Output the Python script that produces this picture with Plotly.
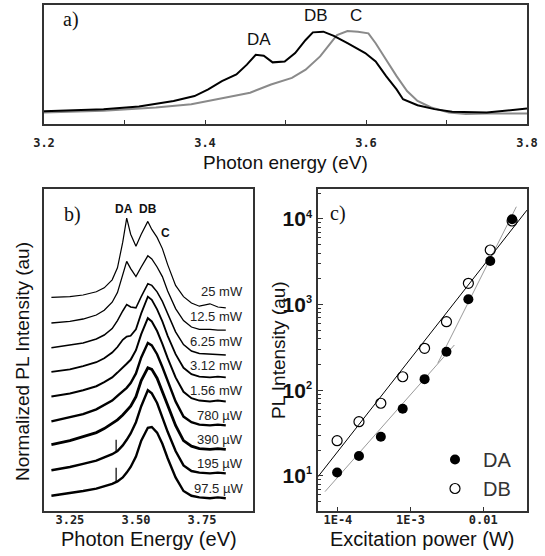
import plotly.graph_objects as go

W, H = 545, 556

# ---------------- Panel a data ----------------
a_black_E = [3.200, 3.274, 3.318, 3.361, 3.387, 3.404, 3.421, 3.439, 3.452, 3.463, 3.473, 3.484,
             3.499, 3.512, 3.525, 3.534, 3.547, 3.560, 3.577, 3.599, 3.612, 3.625, 3.638, 3.646,
             3.664, 3.685, 3.707, 3.750, 3.800]
a_black_I = [0.108, 0.125, 0.147, 0.194, 0.235, 0.291, 0.360, 0.416, 0.499, 0.582, 0.573, 0.518,
             0.526, 0.596, 0.706, 0.770, 0.776, 0.740, 0.679, 0.596, 0.526, 0.402, 0.291, 0.208,
             0.158, 0.125, 0.102, 0.097, 0.130]
a_grey_E = [3.200, 3.274, 3.339, 3.383, 3.426, 3.456, 3.482, 3.508, 3.525, 3.543, 3.556, 3.564,
            3.577, 3.590, 3.603, 3.612, 3.625, 3.638, 3.651, 3.664, 3.681, 3.703, 3.724, 3.750, 3.800]
a_grey_I = [0.097, 0.111, 0.139, 0.166, 0.222, 0.263, 0.332, 0.388, 0.457, 0.568, 0.679, 0.748,
            0.781, 0.776, 0.762, 0.679, 0.540, 0.402, 0.277, 0.194, 0.139, 0.097, 0.083, 0.089, 0.089]
a_ticks = [3.2, 3.4, 3.6, 3.8]
a_ticktext = ["3.2", "3.4", "3.6", "3.8"]

# ---------------- Panel b data ----------------
b_E = [3.18, 3.25, 3.30, 3.35, 3.38, 3.41, 3.43, 3.45, 3.465, 3.48, 3.50, 3.52, 3.545, 3.56,
       3.58, 3.60, 3.62, 3.65, 3.68, 3.71, 3.74, 3.78, 3.81, 3.84]
b_labels = ["25 mW", "12.5 mW", "6.25 mW", "3.12 mW", "1.56 mW", "780 µW", "390 µW", "195 µW", "97.5 µW"]
b_offsets = [2.64, 2.33, 2.02, 1.72, 1.41, 1.10, 0.79, 0.49, 0.18]
b_I = [
    [0.03, 0.04, 0.06, 0.10, 0.15, 0.25, 0.40, 0.72, 1.02, 0.82, 0.67, 0.82, 0.98, 0.88, 0.78, 0.64, 0.44, 0.18, 0.04, -0.04, -0.08, -0.05, -0.09, -0.10],
    [0.02, 0.04, 0.07, 0.12, 0.18, 0.28, 0.40, 0.62, 0.79, 0.70, 0.60, 0.72, 0.86, 0.82, 0.72, 0.60, 0.42, 0.20, 0.05, -0.03, -0.06, -0.06, -0.07, -0.07],
    [0.02, 0.05, 0.08, 0.13, 0.18, 0.26, 0.36, 0.48, 0.56, 0.53, 0.52, 0.66, 0.82, 0.80, 0.72, 0.60, 0.44, 0.22, 0.06, -0.02, -0.05, -0.06, -0.06, -0.07],
    [0.02, 0.05, 0.09, 0.14, 0.19, 0.26, 0.33, 0.42, 0.46, 0.47, 0.55, 0.75, 0.96, 0.92, 0.80, 0.65, 0.47, 0.24, 0.07, -0.01, -0.04, -0.05, -0.04, -0.05],
    [0.02, 0.06, 0.10, 0.15, 0.20, 0.26, 0.32, 0.39, 0.43, 0.48, 0.60, 0.80, 1.00, 0.96, 0.84, 0.68, 0.50, 0.26, 0.08, 0.00, -0.03, -0.04, -0.03, -0.04],
    [0.02, 0.07, 0.11, 0.17, 0.22, 0.28, 0.34, 0.40, 0.44, 0.50, 0.62, 0.82, 1.00, 0.97, 0.86, 0.70, 0.52, 0.27, 0.08, 0.01, -0.02, -0.03, -0.02, -0.03],
    [0.04, 0.09, 0.14, 0.19, 0.24, 0.30, 0.35, 0.41, 0.46, 0.52, 0.64, 0.84, 1.00, 0.98, 0.87, 0.70, 0.52, 0.28, 0.09, 0.02, -0.01, -0.02, -0.01, -0.02],
    [0.02, 0.06, 0.10, 0.14, 0.18, 0.22, 0.26, 0.33, 0.40, 0.48, 0.62, 0.82, 1.02, 0.98, 0.86, 0.68, 0.50, 0.26, 0.08, 0.01, -0.01, -0.02, -0.01, -0.02],
    [0.01, 0.04, 0.07, 0.10, 0.13, 0.16, 0.19, 0.24, 0.30, 0.37, 0.50, 0.70, 0.86, 0.87, 0.80, 0.66, 0.48, 0.24, 0.07, 0.01, -0.01, -0.02, -0.01, -0.02],
]
b_widths = [1.2, 1.3, 1.5, 1.8, 2.0, 2.4, 2.8, 2.4, 2.4]
# spikes: (curve index, energy, low, high)
b_spikes = [(7, 3.425, 0.24, 0.40), (8, 3.425, 0.18, 0.36)]
b_ticks = [3.25, 3.50, 3.75]
b_ticktext = ["3.25", "3.50", "3.75"]

# ---------------- Panel c data ----------------
c_power = [9.75e-5, 1.95e-4, 3.9e-4, 7.8e-4, 1.56e-3, 3.12e-3, 6.25e-3, 1.25e-2, 2.5e-2]
c_DA = [11.0, 17.1, 28.7, 61, 135, 282, 1154, 3233, 9910]
c_DB = [25.8, 43, 70.6, 144, 309, 632, 1774, 4345, 9470]
fit_black_x = [5.32e-5, 4.01e-2]
fit_black_y = [9.8, 12700]
fit_grey1_x = [6.64e-5, 4.01e-3]
fit_grey1_y = [6.56, 338]
fit_grey2_x = [2.37e-3, 2.86e-2]
fit_grey2_y = [207, 13900]
c_xticks = [1e-4, 1e-3, 1e-2]
c_xticktext = ["1E-4", "1E-3", "0.01"]
c_yticks = [10, 100, 1000, 10000]
c_yticktext = ["10<sup><span style='font-size:11px'>%d</span></sup>" % i for i in (1, 2, 3, 4)]

# ---------------- geometry helpers (reference pixels -> paper) ----------------
def fx(p):
    return p / W

def fy(p):
    return 1 - p / H

AX = "#333333"
tickfont_mono = dict(family="DejaVu Sans Mono", size=12, color="#222", weight="bold")

fig = go.Figure()

# Panel a
fig.add_trace(go.Scatter(x=a_grey_E, y=a_grey_I, mode="lines", line=dict(color="#8a8a8a", width=2),
                         xaxis="x", yaxis="y", showlegend=False))
fig.add_trace(go.Scatter(x=a_black_E, y=a_black_I, mode="lines", line=dict(color="black", width=2),
                         xaxis="x", yaxis="y", showlegend=False))

# Panel b
for k, (lab, off, vals) in enumerate(zip(b_labels, b_offsets, b_I)):
    fig.add_trace(go.Scatter(x=b_E, y=[off + v for v in vals], mode="lines",
                             line=dict(color="black", width=b_widths[k]),
                             xaxis="x2", yaxis="y2", showlegend=False))
for k, e, lo, hi in b_spikes:
    fig.add_trace(go.Scatter(x=[e, e], y=[b_offsets[k] + lo, b_offsets[k] + hi], mode="lines",
                             line=dict(color="black", width=1.2),
                             xaxis="x2", yaxis="y2", showlegend=False))

# Panel c
fig.add_trace(go.Scatter(x=fit_black_x, y=fit_black_y, mode="lines", line=dict(color="black", width=1),
                         xaxis="x3", yaxis="y3", showlegend=False))
fig.add_trace(go.Scatter(x=fit_grey1_x, y=fit_grey1_y, mode="lines", line=dict(color="#9a9a9a", width=1),
                         xaxis="x3", yaxis="y3", showlegend=False))
fig.add_trace(go.Scatter(x=fit_grey2_x, y=fit_grey2_y, mode="lines", line=dict(color="#9a9a9a", width=1),
                         xaxis="x3", yaxis="y3", showlegend=False))
fig.add_trace(go.Scatter(x=c_power, y=c_DA, mode="markers", name="DA",
                         marker=dict(symbol="circle", size=10, color="black"),
                         xaxis="x3", yaxis="y3"))
fig.add_trace(go.Scatter(x=c_power, y=c_DB, mode="markers", name="DB",
                         marker=dict(symbol="circle-open", size=10, color="black", line=dict(width=1.2)),
                         xaxis="x3", yaxis="y3"))

common = dict(showgrid=False, zeroline=False, showline=True, linecolor=AX, linewidth=1.5,
              mirror=True, automargin=False)

fig.update_layout(
    width=W, height=H, margin=dict(l=0, r=0, t=0, b=0),
    paper_bgcolor="white", plot_bgcolor="white",
    font=dict(family="Liberation Sans", color="#111"),
    xaxis=dict(domain=[fx(44), fx(527)], anchor="y", range=[3.2, 3.8], tickvals=a_ticks,
               ticktext=a_ticktext, ticks="inside", ticklen=4, tickcolor=AX,
               minor=dict(ticks="inside", ticklen=4, tickcolor=AX, dtick=0.1, tick0=3.2),
               ticklabelstandoff=7, tickfont=tickfont_mono, **common),
    yaxis=dict(domain=[fy(124), fy(5)], anchor="x", range=[0, 1], showticklabels=False,
               ticks="", **common),
    xaxis2=dict(domain=[fx(44), fx(253)], anchor="y2", range=[3.152, 3.943], tickvals=b_ticks,
                ticktext=b_ticktext, ticks="", ticklabelstandoff=-3, tickfont=tickfont_mono, **common),
    yaxis2=dict(domain=[fy(511), fy(189)], anchor="x2", range=[0, 4.025], showticklabels=False,
                ticks="", **common),
    xaxis3=dict(type="log", domain=[fx(318), fx(527)], anchor="y3", range=[-4.274, -1.397],
                tickvals=c_xticks, ticktext=c_xticktext, ticks="inside", ticklen=4, tickcolor=AX,
                ticklabelstandoff=-3, tickfont=tickfont_mono, **common),
    yaxis3=dict(type="log", domain=[fy(511), fy(189)], anchor="x3", range=[0.591, 4.35],
                tickvals=c_yticks, ticktext=c_yticktext, ticks="inside", ticklen=5, tickcolor=AX,
                minor=dict(ticks="inside", ticklen=3, tickcolor=AX, dtick="D1"),
                tickfont=dict(family="Liberation Sans", size=21, color="#111", weight="bold"),
                **common),
    legend=dict(x=fx(427), y=fy(440), xanchor="left", yanchor="top", bgcolor="rgba(0,0,0,0)",
                font=dict(family="Liberation Sans", size=20, color="#333"), itemwidth=46,
                tracegroupgap=0),
)

ann = []
def A(text, x, y, size, family="Liberation Sans", angle=0, weight="normal", xanchor="center", color="#111"):
    ann.append(dict(text=text, x=fx(x), y=fy(y), xref="paper", yref="paper", showarrow=False,
                    xanchor=xanchor, yanchor="middle", textangle=angle,
                    font=dict(family=family, size=size, color=color, weight=weight)))

# titles
A("Photon energy (eV)", 285.5, 163, 19)
A("Photon Energy (eV)", 148.5, 539, 20)
A("Excitation power (W)", 422.5, 539, 20)
A("Normalized PL Intensity (au)", 22, 362, 19, angle=-90)
A("PL Intensity (au)", 278, 350, 19, angle=-90)
# panel letters
A("a)", 71, 19, 20, family="Liberation Serif")
A("b)", 72, 214, 20, family="Liberation Serif")
A("c)", 338, 213, 20, family="Liberation Serif")
fig.update_layout(annotations=ann)

# peak labels in data coordinates
fig.add_annotation(text="DA", x=3.467, y=0.706, xref="x", yref="y", showarrow=False,
                   font=dict(size=17, color="#111"))
fig.add_annotation(text="DB", x=3.538, y=0.914, xref="x", yref="y", showarrow=False,
                   font=dict(size=17, color="#111"))
fig.add_annotation(text="C", x=3.587, y=0.914, xref="x", yref="y", showarrow=False,
                   font=dict(size=17, color="#111"))
for t, e, yy in [("DA", 3.455, 3.78), ("DB", 3.545, 3.78), ("C", 3.61, 3.48)]:
    fig.add_annotation(text=t, x=e, y=yy, xref="x2", yref="y2", showarrow=False,
                       font=dict(size=12, color="#111", weight="bold"))
for lab, off in zip(b_labels, b_offsets):
    fig.add_annotation(text=lab, x=3.913, y=off + 0.1, xref="x2", yref="y2", showarrow=False,
                       xanchor="right", yanchor="middle", font=dict(size=13, color="#222"))

# remove the browser's default 8px body margin so the figure fills the window exactly
fig.write_html("out.html", config={"displayModeBar": False},
               post_script="document.body.style.margin='0';document.body.style.overflow='hidden';")
